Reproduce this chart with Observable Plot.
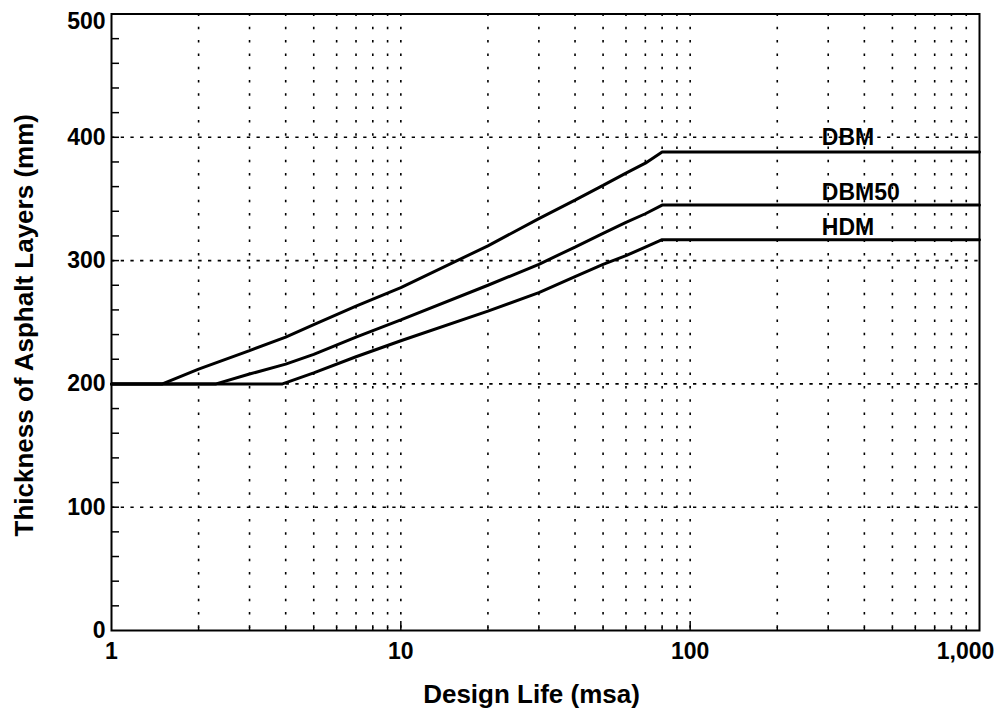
<!DOCTYPE html>
<html>
<head>
<meta charset="utf-8">
<script src="https://cdn.jsdelivr.net/npm/d3@7"></script>
<script src="https://cdn.jsdelivr.net/npm/@observablehq/plot@0.6"></script>
<style>
  html, body { margin: 0; padding: 0; background: #fff; }
  #chart svg { display: block; }
</style>
</head>
<body>
<div id="chart"></div>
<script>
// ---- Data ----
const dbmX   = [1, 1.5, 2, 3, 4, 5, 7, 10, 20, 30, 40, 50, 60, 70, 80, 1000];
const dbmY   = [200, 200, 212, 227, 238, 248, 263, 278, 312, 334, 349, 361, 371, 379, 388, 388];
const dbm50X = [1, 2.3, 3, 4, 5, 7, 10, 20, 30, 40, 50, 60, 70, 80, 1000];
const dbm50Y = [200, 200, 208, 216, 224, 238, 252, 280, 297, 311, 322, 331, 338, 345, 345];
const hdmX   = [1, 3.9, 5, 7, 10, 20, 30, 40, 50, 60, 70, 80, 1000];
const hdmY   = [200, 200, 209, 222, 235, 259, 274, 287, 297, 304, 311, 317, 317];

const seriesNames = ["DBM", "DBM50", "HDM"];
const labelX = [285, 285, 285];
const labelY = [400, 355, 327];

const xTickValues = [1, 10, 100];
const xTickLabels = ["1", "10", "100"];
const xLastTick = 1000;
const xLastLabel = "1,000";
const yTickValues = [0, 100, 200, 300, 400];
const yTopTick = 500;
const xGridValues = [2,3,4,5,6,7,8,9,10,20,30,40,50,60,70,80,90,100,200,300,400,500,600,700,800,900];
const xMinorTicks = [2,3,4,5,6,7,8,9,20,30,40,50,60,70,80,90,200,300,400,500,600,700,800,900];
const xMajorTicks = [10, 100];
const yGridValues = [100, 200, 300, 400];
const yMinorTicks = [20,40,60,80,100,120,140,160,180,200,220,240,260,280,300,320,340,360,380,400,420,440,460,480];

// ---- Build table ----
const lineData = [];
[[dbmX, dbmY], [dbm50X, dbm50Y], [hdmX, hdmY]].forEach(([xs, ys], i) => {
  xs.forEach((x, j) => lineData.push({series: seriesNames[i], x, y: ys[j]}));
});
const labels = seriesNames.map((name, i) => ({name, x: labelX[i], y: labelY[i]}));

const W = 1000, H = 710;
const mL = 111, mR = 21, mT = 13.5, mB = 80;
const plotW = W - mL - mR, plotH = H - mT - mB;
const font = "'Liberation Sans', Arial, Helvetica, sans-serif";

const chart = Plot.plot({
  width: W,
  height: H,
  marginLeft: mL,
  marginRight: mR,
  marginTop: mT,
  marginBottom: mB,
  style: {fontFamily: font, background: "#fff", color: "black"},
  x: {type: "log", domain: [1, 1000], axis: null},
  y: {domain: [0, 500], axis: null},
  marks: [
    // grid
    Plot.ruleX(xGridValues, {x: d => d, stroke: "black", strokeWidth: 1.6, strokeDasharray: "2.5,10.8"}),
    Plot.ruleY(yGridValues, {y: d => d, stroke: "black", strokeWidth: 1.6, strokeDasharray: "3.3,6.4"}),
    // ticks
    Plot.tickX(xMinorTicks, {x: d => d, stroke: "black", strokeWidth: 1.5, insetTop: plotH - 3}),
    Plot.tickX(xMajorTicks, {x: d => d, stroke: "black", strokeWidth: 1.5, insetTop: plotH - 9}),
    Plot.tickY(yMinorTicks, {y: d => d, stroke: "black", strokeWidth: 1.5, insetRight: plotW - 8}),
    // frame
    Plot.frame({stroke: "black", strokeWidth: 2}),
    // curves
    Plot.line(lineData, {x: "x", y: "y", z: "series", stroke: "black", strokeWidth: 3, strokeLinejoin: "miter"}),
    // series labels
    Plot.text(labels, {x: "x", y: "y", text: "name", textAnchor: "start", fontSize: 23, fontWeight: "bold", fill: "black"}),
    // y tick labels
    Plot.text(yTickValues, {y: d => d, text: d => String(d), frameAnchor: "left", textAnchor: "end", dx: -6, fontSize: 23, fontWeight: "bold", fill: "black"}),
    Plot.text([yTopTick], {y: d => d, text: d => String(d), frameAnchor: "left", textAnchor: "end", dx: -6, dy: 8, fontSize: 23, fontWeight: "bold", fill: "black"}),
    // x tick labels
    Plot.text(xTickValues, {x: d => d, text: (d, i) => xTickLabels[i], frameAnchor: "bottom", dy: 28, fontSize: 23, fontWeight: "bold", fill: "black"}),
    Plot.text([xLastTick], {x: d => d, text: () => xLastLabel, frameAnchor: "bottom", dy: 28, dx: -14, fontSize: 23, fontWeight: "bold", fill: "black"}),
    // axis titles
    Plot.text(["Design Life (msa)"], {text: d => d, frameAnchor: "bottom", dx: -14, dy: 72, fontSize: 26, fontWeight: "bold", fill: "black"}),
    Plot.text(["Thickness of Asphalt Layers (mm)"], {text: d => d, frameAnchor: "left", textAnchor: "middle", rotate: -90, dx: -87, dy: 3, fontSize: 26, fontWeight: "bold", fill: "black"})
  ]
});
document.getElementById("chart").appendChild(chart);
</script>
</body>
</html>
